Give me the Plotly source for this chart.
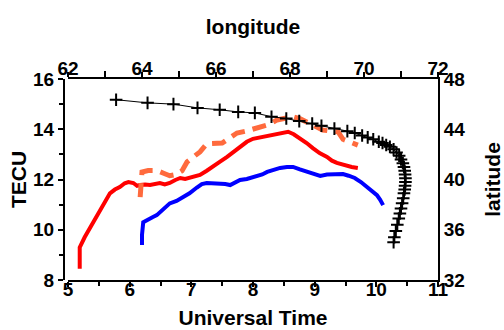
import plotly.graph_objects as go

# Black track: longitude (top axis) / latitude (right axis)
track_lon = [63.3, 64.15, 64.85, 65.5, 66.1, 66.6, 67.05, 67.5, 67.9, 68.25, 68.6, 68.85,
             69.2, 69.55, 69.75, 69.95, 70.1, 70.25, 70.4, 70.5, 70.6, 70.7, 70.8, 70.88,
             70.95, 71.0, 71.05, 71.08, 71.1, 71.11, 71.12, 71.12, 71.11, 71.1, 71.08,
             71.06, 71.03, 71.0, 70.97, 70.94, 70.9, 70.86, 70.82, 70.8]
track_lat = [46.35, 46.1, 46.0, 45.7, 45.55, 45.38, 45.3, 45.0, 44.85, 44.65, 44.45, 44.28,
             44.05, 43.85, 43.7, 43.5, 43.35, 43.2, 43.0, 42.9, 42.75, 42.6, 42.4, 42.15,
             41.9, 41.6, 41.3, 41.0, 40.7, 40.4, 40.1, 39.8, 39.5, 39.2, 38.9,
             38.5, 38.1, 37.7, 37.3, 36.9, 36.4, 35.9, 35.4, 35.0]

# Red TEC series
red_ut = [5.19, 5.19, 5.27, 5.36, 5.44, 5.52, 5.6, 5.68, 5.76, 5.84, 5.92, 5.98, 6.06, 6.12,
          6.17, 6.25, 6.33, 6.41, 6.49, 6.57, 6.65, 6.74, 6.82, 6.9, 6.98, 7.06, 7.14, 7.25,
          7.35, 7.46, 7.58, 7.68, 7.79, 7.9, 8.0, 8.11, 8.22, 8.32, 8.45, 8.57, 8.66, 8.76,
          8.87, 8.97, 9.08, 9.2, 9.28, 9.36, 9.44, 9.52, 9.6, 9.7]
red_tec = [8.45, 9.3, 9.7, 10.1, 10.45, 10.8, 11.15, 11.45, 11.6, 11.7, 11.85, 11.9, 11.86, 11.75,
           11.78, 11.8, 11.78, 11.82, 11.86, 11.8, 11.86, 11.98, 12.06, 12.02, 12.06, 12.1, 12.18, 12.35,
           12.5, 12.7, 12.9, 13.1, 13.3, 13.5, 13.62, 13.67, 13.72, 13.77, 13.85, 13.9, 13.8, 13.65,
           13.45, 13.25, 13.05, 12.9, 12.75, 12.66, 12.6, 12.54, 12.5, 12.46]

# Blue TEC series
blue_ut = [6.2, 6.2, 6.22, 6.3, 6.37, 6.44, 6.54, 6.65, 6.76, 6.86, 6.97, 7.09, 7.17, 7.25,
           7.35, 7.46, 7.55, 7.63, 7.71, 7.79, 7.9, 8.06, 8.15, 8.23, 8.35, 8.44, 8.55, 8.65,
           8.76, 8.88, 8.98, 9.09, 9.2, 9.3, 9.4, 9.46, 9.55, 9.65, 9.75, 9.85, 9.94, 10.01,
           10.06, 10.11]
blue_tec = [9.39, 9.8, 10.3, 10.42, 10.5, 10.58, 10.8, 11.05, 11.15, 11.28, 11.45, 11.68, 11.82, 11.86,
            11.86, 11.86, 11.82, 11.78, 11.9, 11.98, 12.02, 12.12, 12.2, 12.3, 12.4, 12.46, 12.5, 12.5,
            12.4, 12.3, 12.22, 12.14, 12.2, 12.22, 12.24, 12.22, 12.15, 12.06, 11.9, 11.7, 11.52, 11.38,
            11.2, 10.98]

# Orange dashed TEC series
orange_ut = [6.17, 6.18, 6.2, 6.3, 6.44, 6.55, 6.65, 6.75, 6.85, 6.93, 7.03, 7.14, 7.25, 7.38,
             7.5, 7.62, 7.74, 7.88, 8.0, 8.14, 8.27, 8.39, 8.52, 8.65, 8.76, 8.87, 8.97, 9.05,
             9.13, 9.25, 9.38, 9.46, 9.58, 9.7]
orange_tec = [11.3, 11.8, 12.3, 12.36, 12.36, 12.25, 12.15, 12.2, 12.35, 12.7, 12.9, 13.1, 13.42, 13.45,
              13.45, 13.65, 13.85, 13.92, 14.0, 14.08, 14.2, 14.37, 14.45, 14.5, 14.42, 14.28, 14.17, 14.05,
              13.97, 13.93, 13.9, 13.6, 13.48, 13.37]

ut_range = [5, 11]
tec_range = [8, 16]
lon_range = [62, 72]
lat_range = [32, 48]

FONT = "Liberation Sans, Arial, sans-serif"

fig = go.Figure()
fig.add_trace(go.Scatter(x=red_ut, y=red_tec, mode="lines",
                         line=dict(color="#ff0000", width=4), xaxis="x", yaxis="y"))
# blue drawn on the label-carrying twin of the UT axis (same range/domain)
fig.add_trace(go.Scatter(x=blue_ut, y=blue_tec, mode="lines",
                         line=dict(color="#0000ff", width=4), xaxis="x3", yaxis="y"))
fig.add_trace(go.Scatter(x=orange_ut, y=orange_tec, mode="lines",
                         line=dict(color="#ff6a3d", width=5, dash="14px,8px"), xaxis="x", yaxis="y"))
# track: line on the top axis, markers on its label-carrying twin
fig.add_trace(go.Scatter(x=track_lon, y=track_lat, mode="lines",
                         line=dict(color="black", width=1), xaxis="x2", yaxis="y2"))
fig.add_trace(go.Scatter(x=track_lon, y=track_lat, mode="markers",
                         marker=dict(symbol="cross-thin", size=9, line=dict(color="black", width=2)),
                         xaxis="x4", yaxis="y2"))


def tfont():
    return dict(family=FONT, size=19, color="black", weight="bold")


titlefont = dict(family=FONT, size=21, color="black", weight="bold")
common = dict(showgrid=False, zeroline=False, showline=True, linecolor="black", linewidth=2,
              ticks="outside", ticklen=5, tickwidth=1.5, tickcolor="black",
              automargin=False)

dom = [4 / 374, 1]
fig.update_layout(
    width=504, height=330,
    margin=dict(l=64, r=66, t=79, b=50),
    paper_bgcolor="white", plot_bgcolor="white",
    showlegend=False,
    font=dict(family=FONT, size=19, color="black", weight="bold"),
    xaxis=dict(range=ut_range, dtick=1, domain=dom, anchor="y", showticklabels=False,
               tickfont=tfont(),
               minor=dict(dtick=0.5, ticks="outside", ticklen=4, tickcolor="black", tickwidth=1.5),
               title=dict(text="Universal Time", font=titlefont, standoff=24), **common),
    xaxis3=dict(range=ut_range, dtick=1, domain=dom, overlaying="x", anchor="free",
                position=0.02, side="bottom", showticklabels=True, tickfont=tfont(),
                showgrid=False, zeroline=False, showline=False, ticks="", automargin=False),
    yaxis=dict(range=tec_range, dtick=2, anchor="free", position=0, tickfont=tfont(),
               minor=dict(dtick=1, ticks="outside", ticklen=4, tickcolor="black", tickwidth=1.5),
               title=dict(text="TECU", font=titlefont, standoff=0), **common),
    xaxis2=dict(range=lon_range, dtick=2, domain=dom, overlaying="x", side="top", anchor="y",
                showticklabels=False, tickfont=tfont(),
                minor=dict(dtick=1, ticks="outside", ticklen=6, tickcolor="black", tickwidth=1.5),
                title=dict(text="longitude", font=titlefont, standoff=32), **common),
    xaxis4=dict(range=lon_range, dtick=2, domain=dom, overlaying="x", anchor="free",
                position=1.0, side="top", showticklabels=True, tickfont=tfont(),
                showgrid=False, zeroline=False, showline=False, ticks="", automargin=False),
    yaxis2=dict(range=lat_range, dtick=4, overlaying="y", side="right", anchor="x",
                tickfont=tfont(),
                title=dict(text="latitude", font=titlefont, standoff=25),
                **{**common, "ticks": ""}),
)

fig.write_html("out.html")
